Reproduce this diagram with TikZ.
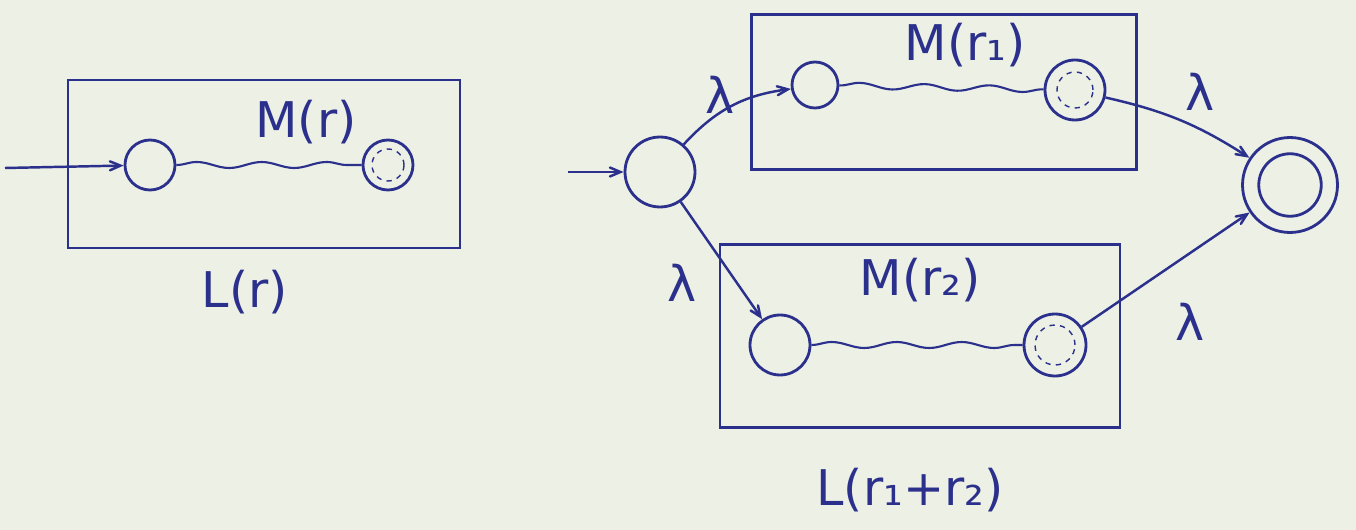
\documentclass[tikz,border=0pt]{standalone}
\usepackage{fontspec}
\setmainfont{DejaVu Sans}
\usepackage{tikz}
\usetikzlibrary{arrows,decorations.pathmorphing}
\definecolor{ink}{rgb}{0.17,0.19,0.55}
\definecolor{paper}{rgb}{0.93,0.94,0.90}

\begin{document}
\begin{tikzpicture}[
    x=0.02cm, y=-0.02cm,
    state/.style={circle, draw=ink, line width=1.6pt, minimum size=1cm, inner sep=0pt},
    inner/.style={circle, draw=ink, dashed, line width=0.8pt, minimum size=0.64cm, inner sep=0pt},
    machine/.style={rectangle, draw=ink, line width=1.6pt, inner sep=0pt},
    arrow/.style={->, >=angle 45, line width=1.4pt, draw=ink},
    wave/.style={draw=ink, line width=1.2pt, decorate, decoration={snake, amplitude=0.6mm, segment length=1.3cm}},
    lbl/.style={text=ink, font=\fontsize{28}{34}\selectfont}
]
    \fill[paper] (0,0) rectangle (1356,530);
    \useasboundingbox (0,0) rectangle (1356,530);

    % M(r) alone
    \node[machine, minimum width=7.84cm, minimum height=3.36cm] (box) at (264,164) {};
    \node[state] (s) at (150,165) {};
    \node[state] (f) at (388,165) {};
    \node[inner] (fin) at (f) {};
    \coordinate (in) at (5,168);
    \node[lbl] (mr) at (306,122) {M(r)};
    \node[lbl] (lr) at (245,292) {L(r)};
    \draw[arrow] (in) -- (s);
    \draw[wave] (s) -- (f);

    % union of the two machines
    \node[state, minimum size=1.4cm] (q0) at (660,172) {};
    \coordinate (in2) at (568,172);
    \node[machine, minimum width=7.7cm, minimum height=3.1cm] (box1) at (944,92) {};
    \node[state, minimum size=0.92cm] (s1) at (815,85) {};
    \node[state, minimum size=1.2cm] (f1) at (1075,90) {};
    \node[inner, minimum size=0.72cm] (f1in) at (f1) {};
    \node[lbl] (m1) at (965,45) {M(r₁)};

    \node[machine, minimum width=8cm, minimum height=3.66cm] (box2) at (920,336) {};
    \node[state, minimum size=1.2cm] (s2) at (780,345) {};
    \node[state, minimum size=1.24cm] (f2) at (1055,345) {};
    \node[inner, minimum size=0.8cm] (f2in) at (f2) {};
    \node[lbl] (m2) at (920,280) {M(r₂)};

    \node[state, minimum size=1.9cm] (qf) at (1290,185) {};
    \node[state, minimum size=1.25cm] (qfin) at (qf) {};
    \node[lbl] (lu) at (910,490) {L(r₁+r₂)};

    \node[lbl] (l1) at (720,95) {λ};
    \node[lbl] (l2) at (682,283) {λ};
    \node[lbl] (l3) at (1200,92) {λ};
    \node[lbl] (l4) at (1190,322) {λ};

    \draw[arrow] (in2) -- (q0);
    \draw[arrow] (q0) to[bend left=20] (s1);
    \draw[arrow] (q0) -- (s2);
    \draw[wave] (s1) -- (f1);
    \draw[wave] (s2) -- (f2);
    \draw[arrow] (f1) to[bend left=10] (qf);
    \draw[arrow] (f2) -- (qf);
\end{tikzpicture}
\end{document}
